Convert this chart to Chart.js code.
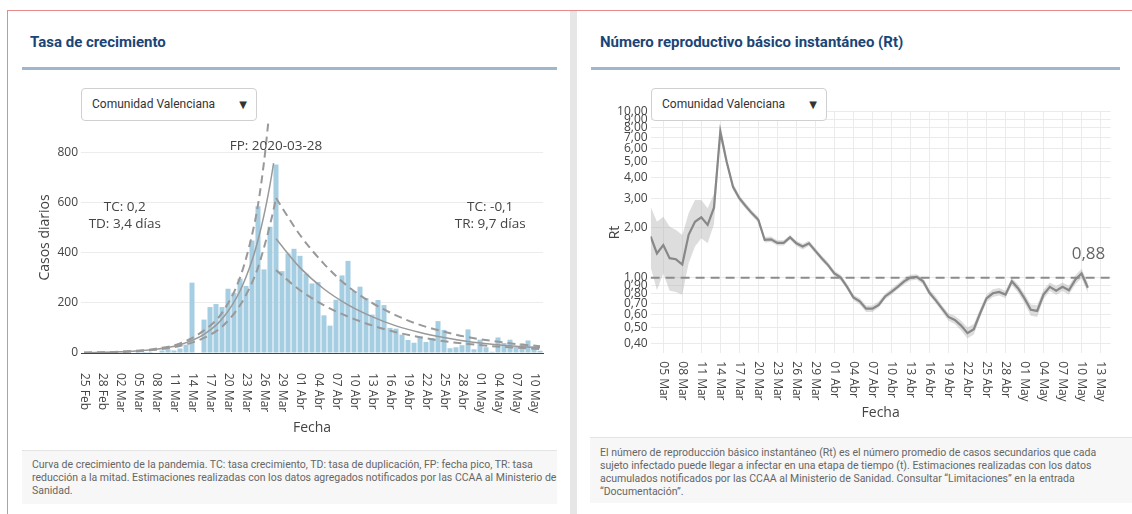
<!DOCTYPE html>
<html>
<head>
<meta charset="utf-8">
<script src="https://cdn.jsdelivr.net/npm/chart.js@4.4.1/dist/chart.umd.min.js"></script>
<style>
  body { margin: 0; width: 1132px; height: 514px; overflow: hidden; background: #fff; position: relative; font-family: Roboto, 'Open Sans', sans-serif; }
  .frame { position: absolute; left: 7px; top: 10px; width: 1140px; height: 520px; border: 1px solid #e68a8a; box-sizing: border-box; }
  .sep { position: absolute; left: 570px; top: 11px; width: 7px; height: 503px; background: #e6e6e6; }
  .title { position: absolute; top: 33px; font-weight: 700; font-size: 15px; color: #1a4576; white-space: nowrap; }
  .rule { position: absolute; top: 67px; height: 3px; background: #9fb6cc; }
  .select { position: absolute; top: 88px; width: 176px; height: 33px; box-sizing: border-box; border: 1px solid #d0d0d0; border-radius: 4px; background: #fff; font-size: 12px; color: #333; line-height: 31px; padding-left: 10px; z-index: 2; }
  .select span { position: absolute; right: 9px; top: 0; font-size: 10px; font-family: 'DejaVu Sans'; }
  .note { position: absolute; background: #f7f7f7; border-top: 1px solid #e4e4e4; font-size: 10.5px; line-height: 13px; color: #666; padding: 8px 10px 0 10px; box-sizing: border-box; white-space: nowrap; }
  canvas { position: absolute; }
</style>
</head>
<body>
<div class="frame"></div>
<div class="sep"></div>

<div class="title" style="left:30px">Tasa de crecimiento</div>
<div class="rule" style="left:22px;width:535px"></div>
<div class="select" style="left:81px">Comunidad Valenciana<span>▼</span></div>
<canvas id="growthChart" width="540" height="318" style="left:22px;top:120px"></canvas>
<div class="note" style="left:22px;top:450px;width:535px;height:54px;padding-top:7px">Curva de crecimiento de la pandemia. TC: tasa crecimiento, TD: tasa de duplicación, FP: fecha pico, TR: tasa<br>reducción a la mitad. Estimaciones realizadas con los datos agregados notificados por las CCAA al Ministerio de<br>Sanidad.</div>

<div class="title" style="left:600px">Número reproductivo básico instantáneo (Rt)</div>
<div class="rule" style="left:591px;width:529px"></div>
<div class="select" style="left:651px">Comunidad Valenciana<span>▼</span></div>
<canvas id="rtChart" width="555" height="318" style="left:577px;top:105px"></canvas>
<div class="note" style="left:590px;top:437px;width:542px;height:66px">El número de reproducción básico instantáneo (Rt) es el número promedio de casos secundarios que cada<br>sujeto infectado puede llegar a infectar en una etapa de tiempo (t). Estimaciones realizadas con los datos<br>acumulados notificados por las CCAA al Ministerio de Sanidad. Consultar “Limitaciones” en la entrada<br>“Documentación”.</div>

<script>
// ---- Tasa de crecimiento: day index 0 = 25 Feb ----
const caseTickLabels = ['25 Feb', '28 Feb', '02 Mar', '05 Mar', '08 Mar', '11 Mar', '14 Mar', '17 Mar', '20 Mar',
  '23 Mar', '26 Mar', '29 Mar', '01 Abr', '04 Abr', '07 Abr', '10 Abr', '13 Abr', '16 Abr', '19 Abr', '22 Abr',
  '25 Abr', '28 Abr', '01 May', '04 May', '07 May', '10 May'];
const dailyCases = [0, 0, 1, 0, 1, 2, 1, 3, 2, 5, 4, 4, 2, 10, 15, 10, 18, 33, 280, 0,
  133, 183, 195, 183, 256, 240, 296, 267, 448, 584, 333, 503, 751, 326, 396, 415, 387, 316, 277, 283,
  150, 109, 212, 309, 367, 247, 264, 219, 153, 211, 191, 100, 97, 73, 52, 41, 66, 44, 60, 127,
  92, 19, 23, 31, 94, 15, 53, 23, 5, 62, 40, 53, 24, 38, 50, 27, 9];

// fitted curves at these day indices
const growthFitDays = [0, 6, 12, 16, 20, 23, 26, 28, 29, 30, 31, 31.6];
const growthFit = [1.4, 4.5, 15, 33, 74, 135, 247, 368, 450, 549, 670, 756];
const growthHighDays = [0, 6, 12, 16, 20, 23, 26, 28, 29, 30, 30.7];
const growthHigh = [1.5, 5, 17, 38, 90, 160, 300, 470, 590, 760, 915];
const growthLowDays = [0, 6, 12, 16, 20, 23, 26, 28, 29, 30, 31, 32];
const growthLow = [1, 4, 13, 28, 60, 105, 190, 280, 340, 420, 510, 614];
const decayDays = [32, 36, 40, 44, 48, 52, 56, 60, 64, 68, 72, 76];
const decayFit = [455, 340, 255, 192, 145, 108, 82, 62, 46, 35, 27, 21];
const decayHigh = [617, 470, 355, 265, 200, 150, 112, 85, 63, 48, 36, 27];
const decayLow = [330, 250, 190, 145, 110, 83, 63, 47, 36, 27, 21, 16];

// ---- Rt: day 0 = 05 Mar, series starts 03 Mar ----
const rtTickLabels = ['05 Mar', '08 Mar', '11 Mar', '14 Mar', '17 Mar', '20 Mar', '23 Mar', '26 Mar', '29 Mar',
  '01 Abr', '04 Abr', '07 Abr', '10 Abr', '13 Abr', '16 Abr', '19 Abr', '22 Abr', '25 Abr', '28 Abr',
  '01 May', '04 May', '07 May', '10 May', '13 May'];
const rtFirstDay = -2;
const rtMid = [1.77, 1.40, 1.57, 1.31, 1.29, 1.20, 1.81, 2.17, 2.31, 2.08, 2.64, 7.58, 5.0, 3.53, 3.01, 2.70, 2.44, 2.23,
  1.69, 1.70, 1.62, 1.62, 1.75, 1.61, 1.54, 1.61, 1.45, 1.31, 1.19, 1.06, 1.00, 0.88, 0.76, 0.72, 0.65, 0.65,
  0.685, 0.77, 0.82, 0.88, 0.95, 1.00, 1.01, 0.95, 0.81, 0.73, 0.65, 0.58, 0.556, 0.514, 0.463, 0.489,
  0.61, 0.75, 0.805, 0.82, 0.79, 0.95, 0.86, 0.75, 0.64, 0.63, 0.79, 0.88, 0.835, 0.88, 0.84, 0.97, 1.06, 0.87];
const rtLow = [1.16, 0.84, 1.06, 0.835, 0.82, 0.79, 1.22, 1.54, 1.73, 1.61, 2.1, 6.9, 4.75, 3.38, 2.89, 2.6, 2.35, 2.15,
  1.63, 1.64, 1.56, 1.56, 1.69, 1.55, 1.48, 1.55, 1.40, 1.26, 1.15, 1.02, 0.96, 0.85, 0.73, 0.69, 0.62, 0.62,
  0.66, 0.74, 0.79, 0.85, 0.91, 0.96, 0.97, 0.91, 0.78, 0.70, 0.62, 0.55, 0.525, 0.48, 0.43, 0.455,
  0.575, 0.71, 0.765, 0.78, 0.75, 0.90, 0.81, 0.70, 0.59, 0.58, 0.74, 0.83, 0.785, 0.83, 0.79, 0.91, 0.99, 0.81];
const rtHigh = [2.68, 2.17, 2.33, 2.03, 1.94, 1.81, 2.44, 2.94, 2.94, 2.62, 3.2, 8.5, 5.3, 3.7, 3.14, 2.81, 2.54, 2.32,
  1.76, 1.77, 1.68, 1.68, 1.81, 1.67, 1.60, 1.67, 1.51, 1.36, 1.24, 1.10, 1.04, 0.92, 0.79, 0.75, 0.68, 0.68,
  0.72, 0.80, 0.86, 0.92, 0.99, 1.04, 1.05, 0.99, 0.85, 0.77, 0.68, 0.61, 0.59, 0.55, 0.50, 0.525,
  0.65, 0.79, 0.85, 0.865, 0.835, 1.00, 0.91, 0.80, 0.69, 0.685, 0.845, 0.935, 0.89, 0.935, 0.895, 1.03, 1.13, 0.93];
const rtYTicks = [0.4, 0.5, 0.6, 0.7, 0.8, 0.9, 1, 2, 3, 4, 5, 6, 7, 8, 9, 10];
const rtThreshold = 1;
const rtLastLabel = '0,88';

const axisFont = { family: 'Open Sans', size: 12 };
const titleFont = { family: 'Open Sans', size: 14 };
const pts = (xs, ys) => ys.map((y, k) => ({ x: xs[k], y }));

const curve = (xs, ys, dashed) => ({
  type: 'line', data: pts(xs, ys), borderColor: '#999', borderWidth: dashed ? 2 : 1.5,
  borderDash: dashed ? [8, 5] : [], pointRadius: 0, cubicInterpolationMode: 'monotone', fill: false, order: 1
});

// rotated date labels, reading top to bottom like the original
const dateTicks = (labels, step, gap) => ({
  id: 'dateTicks',
  afterDraw(chart) {
    const { ctx, scales: { x } } = chart;
    ctx.save();
    ctx.font = '12px "Open Sans"';
    ctx.fillStyle = '#444';
    ctx.textAlign = 'left';
    ctx.textBaseline = 'middle';
    labels.forEach((lab, k) => {
      ctx.save();
      ctx.translate(x.getPixelForValue(k * step), x.top + gap);
      ctx.rotate(Math.PI / 2);
      ctx.fillText(lab, 0, 0);
      ctx.restore();
    });
    ctx.restore();
  }
});

const textNotes = (notes) => ({
  id: 'textNotes',
  afterDatasetsDraw(chart) {
    const { ctx, scales: { x, y } } = chart;
    ctx.save();
    ctx.textAlign = 'center';
    ctx.textBaseline = 'middle';
    notes.forEach(n => {
      ctx.font = `${n.size}px "Open Sans"`;
      ctx.fillStyle = n.color;
      ctx.fillText(n.text, x.getPixelForValue(n.x), y.getPixelForValue(n.y));
    });
    ctx.restore();
  }
});

// keep the plot edges where the layout padding puts them
const fixWidth = w => s => { s.width = w; s.paddingTop = 0; s.paddingBottom = 0; };

new Chart(document.getElementById('growthChart'), {
  type: 'bar',
  data: {
    datasets: [
      { type: 'bar', data: dailyCases.map((v, i) => ({ x: i, y: v })), backgroundColor: '#a6cee3',
        barPercentage: 0.84, categoryPercentage: 1, order: 2 },
      curve(growthFitDays, growthFit, false),
      curve(growthHighDays, growthHigh, true),
      curve(growthLowDays, growthLow, true),
      curve(decayDays, decayFit, false),
      curve(decayDays, decayHigh, true),
      curve(decayDays, decayLow, true)
    ]
  },
  options: {
    responsive: false, animation: false,
    layout: { padding: { top: 2, right: 19, bottom: 0, left: 0 } },
    plugins: { legend: { display: false }, tooltip: { enabled: false } },
    scales: {
      x: {
        type: 'linear', min: -0.5, max: 76.5, offset: false,
        grid: { display: false, offset: false }, border: { display: true, color: '#444', width: 1 },
        ticks: { display: false, stepSize: 3 },
        title: { display: true, text: 'Fecha', font: titleFont, color: '#444', padding: { top: 0, bottom: 2 } },
        afterFit: s => { s.height = 85; s.paddingLeft = 0; s.paddingRight = 0; }
      },
      y: {
        min: 0, max: 920,
        ticks: { stepSize: 200, includeBounds: false, padding: 3, color: '#444', font: axisFont },
        grid: { color: '#ececec', drawTicks: false }, border: { display: false },
        title: { display: true, text: 'Casos diarios', font: titleFont, color: '#444', padding: { top: 14.6, bottom: 0 } },
        afterFit: fixWidth(59)
      }
    }
  },
  plugins: [
    dateTicks(caseTickLabels, 3, 20),
    textNotes([
      { text: 'FP: 2020-03-28', x: 32, y: 825, size: 13.5, color: '#444' },
      { text: 'TC: 0,2', x: 6.8, y: 582, size: 13.5, color: '#444' },
      { text: 'TD: 3,4 días', x: 6.8, y: 514, size: 13.5, color: '#444' },
      { text: 'TC: -0,1', x: 67.7, y: 582, size: 13.5, color: '#444' },
      { text: 'TR: 9,7 días', x: 67.7, y: 514, size: 13.5, color: '#444' }
    ])
  ]
});

const rtX = k => rtFirstDay + k;
const rtMin = -2, rtMax = 70.6;

new Chart(document.getElementById('rtChart'), {
  type: 'line',
  data: {
    datasets: [
      { data: rtLow.map((v, k) => ({ x: rtX(k), y: v })), borderWidth: 0, pointRadius: 0, fill: false, order: 3 },
      { data: rtHigh.map((v, k) => ({ x: rtX(k), y: v })), borderWidth: 0, pointRadius: 0,
        fill: '-1', backgroundColor: 'rgba(175,175,175,0.42)', order: 3 },
      { data: [{ x: rtMin, y: rtThreshold }, { x: rtMax, y: rtThreshold }], borderColor: '#8c8c8c',
        borderWidth: 2, borderDash: [9, 6], pointRadius: 0, fill: false, order: 2 },
      { data: rtMid.map((v, k) => ({ x: rtX(k), y: v })), borderColor: '#888', borderWidth: 2.2,
        pointRadius: 0, tension: 0, fill: false, order: 1 }
    ]
  },
  options: {
    responsive: false, animation: false,
    layout: { padding: { top: 6.7, right: 21.3, bottom: 0, left: 0 } },
    plugins: { legend: { display: false }, tooltip: { enabled: false } },
    scales: {
      x: {
        type: 'linear', min: rtMin, max: rtMax, offset: false,
        grid: { color: '#ebebeb', drawTicks: false, offset: false }, border: { display: false },
        ticks: { display: false, stepSize: 3, includeBounds: false },
        title: { display: true, text: 'Fecha', font: titleFont, color: '#444', padding: { top: 0, bottom: 2 } },
        afterFit: s => { s.height = 69.7; s.paddingLeft = 0; s.paddingRight = 0; }
      },
      y: {
        type: 'logarithmic', min: 0.35, max: 10,
        afterBuildTicks: s => { s.ticks = rtYTicks.map(v => ({ value: v })); },
        ticks: { autoSkip: false, padding: 3, color: '#444', font: axisFont,
                 callback: v => v.toFixed(2).replace('.', ',') },
        grid: { color: '#ebebeb', drawTicks: false }, border: { display: false },
        title: { display: true, text: 'Rt', font: titleFont, color: '#444', padding: { top: 29.6, bottom: 0 } },
        afterFit: fixWidth(73.6)
      }
    }
  },
  plugins: [
    dateTicks(rtTickLabels, 3, 8),
    textNotes([{ text: rtLastLabel, x: 67.1, y: 1.39, size: 17, color: '#666' }])
  ]
});
</script>
</body>
</html>
